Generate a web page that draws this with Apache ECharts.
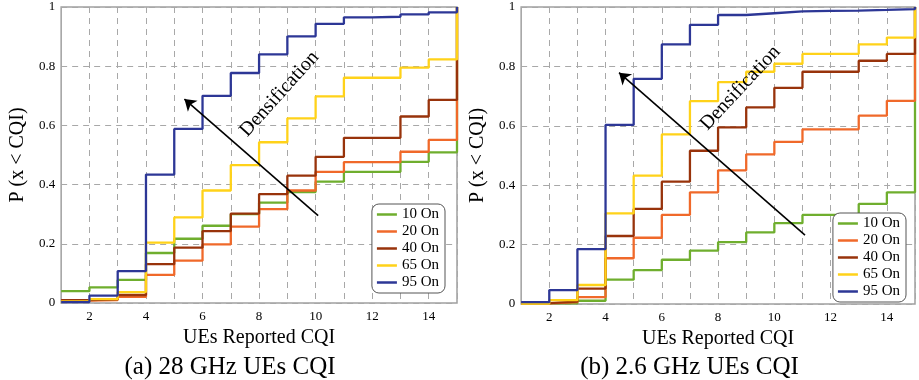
<!DOCTYPE html>
<html>
<head>
<meta charset="utf-8">
<script src="https://cdn.jsdelivr.net/npm/echarts/dist/echarts.min.js"></script>
<style>
  html, body { margin: 0; padding: 0; background: #fff; }
  .wrap { width: 919px; height: 380px; position: relative; }
  .echarts_1 { position: absolute; left: 0; top: 0; width: 460px; height: 380px; }
  .echarts_2 { position: absolute; left: 460px; top: 0; width: 459px; height: 380px; }
</style>
</head>
<body>
<div class="wrap">
  <div class="echarts_1"></div>
  <div class="echarts_2"></div>
</div>
<script>
// CQI values on the x axis
var cqi = [1, 2, 3, 4, 5, 6, 7, 8, 9, 10, 11, 12, 13, 14, 15];
var names = ['10 On', '20 On', '40 On', '65 On', '95 On'];

// (a) 28 GHz, P(x < CQI) per step
var on10_28 = [0.04, 0.053, 0.078, 0.169, 0.217, 0.261, 0.30, 0.339, 0.375, 0.41, 0.443, 0.443, 0.477, 0.509, 1];
var on20_28 = [0.008, 0.01, 0.021, 0.095, 0.143, 0.198, 0.258, 0.317, 0.38, 0.443, 0.476, 0.476, 0.511, 0.551, 1];
var on40_28 = [0.01, 0.012, 0.027, 0.131, 0.187, 0.243, 0.302, 0.368, 0.43, 0.494, 0.558, 0.558, 0.63, 0.686, 1];
var on65_28 = [0.005, 0.013, 0.037, 0.204, 0.289, 0.38, 0.466, 0.543, 0.624, 0.698, 0.761, 0.761, 0.795, 0.823, 1];
var on95_28 = [0.003, 0.025, 0.108, 0.434, 0.588, 0.70, 0.777, 0.84, 0.901, 0.943, 0.965, 0.967, 0.975, 0.982, 1];

// (b) 2.6 GHz
var on10_26 = [0.002, 0.002, 0.011, 0.082, 0.114, 0.149, 0.18, 0.208, 0.241, 0.272, 0.30, 0.30, 0.337, 0.376, 1];
var on20_26 = [0.002, 0.006, 0.023, 0.154, 0.223, 0.30, 0.376, 0.45, 0.504, 0.546, 0.588, 0.588, 0.634, 0.684, 1];
var on40_26 = [0.003, 0.008, 0.052, 0.229, 0.32, 0.412, 0.516, 0.595, 0.662, 0.728, 0.782, 0.782, 0.819, 0.842, 1];
var on65_26 = [0.001, 0.013, 0.064, 0.305, 0.432, 0.571, 0.683, 0.747, 0.782, 0.809, 0.842, 0.842, 0.874, 0.897, 1];
var on95_26 = [0.006, 0.047, 0.185, 0.603, 0.758, 0.874, 0.94, 0.973, 0.979, 0.985, 0.987, 0.988, 0.99, 0.993, 1];

// densification arrow (tail -> head) and label position, in data units
var arrow_28 = [[10.09, 0.295], [5.36, 0.689]];
var text_28 = [8.72, 0.706];
var arrow_26 = [[11.09, 0.232], [4.48, 0.779]];
var text_26 = [8.79, 0.727];

var colors = ['#6fae2e', '#f0692a', '#98330b', '#ffd219', '#2d3796'];
var serif = 'Liberation Serif';

function pairs(ys) {
  return cqi.map(function (x, i) { return [x, ys[i]]; });
}

function makeOption(caption, sets, arrow, textPos, grid, legendPos, textRot) {
  var series = sets.map(function (ys, i) {
    return {
      name: names[i],
      type: 'line',
      step: 'end',
      showSymbol: false,
      data: pairs(ys),
      lineStyle: { width: 2.3, color: colors[i] },
      itemStyle: { color: colors[i] }
    };
  });
  // arrow + text hang on the last series
  series[4].markLine = {
    silent: true,
    symbol: ['none', 'arrow'],
    symbolSize: 11,
    label: { show: false },
    lineStyle: { color: '#000', width: 1.6, type: 'solid' },
    data: [[{ coord: arrow[0] }, { coord: arrow[1] }]]
  };
  series[4].markPoint = {
    silent: true,
    symbol: 'circle',
    symbolSize: 0,
    label: {
      show: true,
      position: 'inside',
      formatter: 'Densification',
      rotate: textRot,
      color: '#000',
      fontFamily: serif,
      fontSize: 20
    },
    data: [{ coord: textPos }]
  };

  return {
    animation: false,
    color: colors,
    title: {
      text: caption,
      left: 'center',
      top: 350,
      textStyle: { fontFamily: serif, fontSize: 25, fontWeight: 'normal', color: '#000' }
    },
    legend: {
      data: names,
      orient: 'vertical',
      right: legendPos[0],
      bottom: legendPos[1],
      icon: 'rect',
      itemWidth: 20,
      itemHeight: 2.5,
      itemGap: 2,
      padding: [3, 6, 3, 5],
      borderColor: '#555',
      borderWidth: 1,
      borderRadius: 7,
      backgroundColor: '#fff',
      textStyle: { fontFamily: serif, fontSize: 15, color: '#000' }
    },
    grid: {
      left: grid[0], right: grid[1], top: grid[2], bottom: grid[3],
      show: true, borderColor: '#a0a0a0', borderWidth: 1.5
    },
    xAxis: {
      type: 'value',
      min: 1, max: 15, interval: 1,
      name: 'UEs Reported CQI',
      nameLocation: 'middle',
      nameGap: 21,
      nameTextStyle: { fontFamily: serif, fontSize: 20, color: '#000' },
      axisLine: { show: false },
      axisTick: { show: false },
      axisLabel: {
        fontFamily: serif, fontSize: 13, color: '#000', margin: 7,
        formatter: function (v) { return v % 2 === 0 ? v : ''; }
      },
      splitLine: { show: true, lineStyle: { color: '#a8a8a8', type: [6, 5], width: 1 } }
    },
    yAxis: {
      type: 'value',
      min: 0, max: 1, interval: 0.2,
      name: 'P (x < CQI)',
      nameLocation: 'middle',
      nameGap: grid[4],
      nameTextStyle: { fontFamily: serif, fontSize: 20, color: '#000' },
      axisLine: { show: false },
      axisTick: { show: false },
      axisLabel: { fontFamily: serif, fontSize: 13, color: '#000', margin: 6 },
      splitLine: { show: true, lineStyle: { color: '#a8a8a8', type: [6, 5], width: 1 } }
    },
    series: series
  };
}

var echarts_1 = echarts.init(document.querySelector('.echarts_1'));
echarts_1.setOption(makeOption('(a) 28 GHz UEs CQI',
  [on10_28, on20_28, on40_28, on65_28, on95_28],
  arrow_28, text_28, [52, 2, 7, 77, 31], [15, 87], 48));

var echarts_2 = echarts.init(document.querySelector('.echarts_2'));
echarts_2.setOption(makeOption('(b) 2.6 GHz UEs CQI',
  [on10_26, on20_26, on40_26, on65_26, on95_26],
  arrow_26, text_26, [49, 4, 7, 76, 29], [13, 78], 47));
</script>
</body>
</html>
